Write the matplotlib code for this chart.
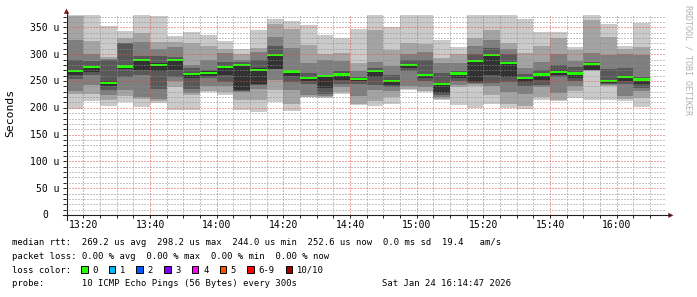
"""SmokePing style latency chart: 10 ICMP pings every 5 minutes, last 3 hours."""

import matplotlib
matplotlib.use("Agg")
import matplotlib.dates as mdates
import matplotlib.pyplot as plt
import matplotlib.transforms as mtransforms
import numpy as np
import pandas as pd
from matplotlib.lines import Line2D
from matplotlib.patches import Polygon, Rectangle
from matplotlib.ticker import MultipleLocator

# sorted rtt of the 10 pings in each 5 minute slot, microseconds (01 = fastest)
ping01 = [198, 212, 204, 211, 202, 209, 196, 195, 230, 224, 196, 192, 211, 194, 220, 219, 226, 205,
          204, 208, 233, 230, 214, 205, 200, 207, 199, 198, 214, 213, 218, 214, 214, 213, 201]
ping02 = [225, 226, 214, 222, 216, 212, 239, 223, 232, 230, 214, 215, 233, 207, 221, 220, 230, 208,
          212, 220, 236, 232, 217, 239, 240, 224, 208, 203, 220, 215, 232, 269, 240, 217, 218]
ping03 = [232, 242, 223, 234, 221, 216, 250, 227, 240, 240, 230, 236, 252, 233, 223, 222, 238, 222,
          234, 232, 240, 238, 220, 242, 244, 240, 229, 226, 238, 227, 240, 270, 242, 222, 232]
ping04 = [253, 261, 233, 258, 262, 236, 257, 236, 255, 248, 232, 242, 272, 249, 245, 226, 245, 245,
          243, 238, 268, 250, 223, 250, 246, 246, 248, 240, 242, 258, 250, 270.5, 244, 244, 237]
ping05 = [261, 267, 240, 272, 270, 268, 271, 255, 259, 262, 234, 245, 273, 260, 250, 237, 252, 250,
          257, 243, 274, 255, 228, 256, 248, 262, 258, 249, 252, 262, 256, 271, 247, 250, 245]
ping06 = [271, 278, 250, 280, 291, 283, 290, 265, 268, 278, 282, 275, 301, 270, 258, 260, 264, 256,
          271, 252, 282, 263, 245, 266, 289, 300, 286, 258, 264, 270, 266, 283, 252, 260, 254]
ping07 = [289, 287, 289, 320, 296, 296, 295, 275, 270, 285, 285, 289, 315, 271, 265, 262, 268, 258,
          275, 262, 290, 290, 265, 268, 300, 312, 300, 263, 270, 280, 276, 285, 273, 275, 258]
ping08 = [327, 301, 291, 321, 323, 309, 313, 280, 289, 302, 290, 305, 332, 311, 283, 290, 288, 268,
          285, 278, 300, 305, 283, 283, 316, 327, 310, 275, 286, 300, 288, 302, 298, 300, 298]
ping09 = [371, 325, 295, 330, 340, 322, 322, 320, 316, 310, 300, 311, 357, 347, 318, 300, 302, 284,
          345, 307, 320, 319, 292, 301, 330, 345, 320, 302, 315, 330, 308, 363, 333, 310, 313]
ping10 = [373, 373, 352, 344, 373, 372, 334, 342, 336, 325, 310, 346, 366, 362, 355, 335, 331, 347,
          373, 351, 373, 373, 326, 313, 373, 373, 373, 365, 342, 342, 314, 373, 357, 315, 358]
median_rtt = [269, 276, 246, 277, 289, 280, 289, 263, 265, 276, 280, 271, 299, 268, 256, 259, 262, 254,
              269, 250, 280, 261, 244.0, 264, 287, 298.2, 284, 256, 262, 267, 264, 282, 250, 258, 252.6]

first_slot = "2026-01-24 13:15"
view_start = "2026-01-24 13:14:47"
view_end = "2026-01-24 16:14:47"

y_ticks = [0, 50, 100, 150, 200, 250, 300, 350]
y_tick_labels = ["0", "50 u", "100 u", "150 u", "200 u", "250 u", "300 u", "350 u"]

legend_rtt = "median rtt:  269.2 us avg  298.2 us max  244.0 us min  252.6 us now  0.0 ms sd  19.4   am/s"
legend_loss = "packet loss: 0.00 % avg  0.00 % max  0.00 % min  0.00 % now"
legend_color = "loss color:"
legend_probe = "probe:       10 ICMP Echo Pings (56 Bytes) every 300s"
stamp = "Sat Jan 24 16:14:47 2026"
loss_labels = ["0", "1", "2", "3", "4", "5", "6-9", "10/10"]
loss_colors = ["#26ff00", "#00b8ff", "#0059ff", "#7e00ff", "#ff00ff", "#ff5500", "#ff0000", "#a10000"]

W, H = 697, 297
MONO = "DejaVu Sans Mono"
GRID = (0.56, 0.56, 0.56, 0.75)
MGRID = (0.87, 0.31, 0.31, 0.6)
AXIS = (0.12, 0.12, 0.12)
ARROW = (0.5, 0.12, 0.12)
PX = 72 / 100  # one pixel in points


def fx(px):
    return px / W


def fy(py):
    return 1 - py / H


plt.rcParams["font.family"] = MONO
plt.rcParams["lines.scale_dashes"] = False
fig = plt.figure(figsize=(W / 100, H / 100), dpi=100, facecolor="white")
ax = fig.add_axes([fx(66), fy(215), 600 / W, 201 / H])
ax.set_facecolor("white")

slots = mdates.date2num(pd.date_range(first_slot, periods=len(median_rtt), freq="5min"))
step = 5 / 1440

# nested smoke bands, lightest = slowest/fastest pair, darkest = the two middle pings
ranks = [ping01, ping02, ping03, ping04, ping05, ping06, ping07, ping08, ping09, ping10]
half = len(ranks) // 2
for k in range(half):
    lo = np.array(ranks[k], dtype=float)
    hi = np.array(ranks[len(ranks) - 1 - k], dtype=float)
    level = int(190 / half * (half - 1 - k)) + 50
    shade = "#{0:02x}{0:02x}{0:02x}".format(level)
    ax.bar(slots, hi - lo, bottom=lo, width=step, align="edge", color=shade,
           linewidth=0, antialiased=False, zorder=1)

med = np.array(median_rtt)
ax.bar(slots, 4.4, bottom=med - 2.2, width=step, align="edge", color=loss_colors[0],
       linewidth=0, antialiased=False, zorder=1.5)

ax.set_xlim(mdates.date2num(pd.Timestamp(view_start)), mdates.date2num(pd.Timestamp(view_end)))
ax.set_ylim(0, 375)
ax.xaxis.set_major_locator(mdates.MinuteLocator(byminute=[0, 20, 40]))
ax.xaxis.set_minor_locator(mdates.MinuteLocator(byminute=range(0, 60, 5)))
ax.yaxis.set_major_locator(MultipleLocator(50))
ax.yaxis.set_minor_locator(MultipleLocator(10))
ax.set_axisbelow(False)
dots = (0, (PX, 2 * PX))
ax.grid(which="minor", color=GRID, linestyle=dots, linewidth=PX)
ax.grid(which="major", color=MGRID, linestyle=dots, linewidth=PX)
ax.tick_params(which="both", direction="out", length=2.5, width=0.7, color=AXIS,
               labelbottom=False, labelleft=False)
for side in ax.spines.values():
    side.set_visible(False)

# axis lines with arrow heads
fig.add_artist(Line2D([fx(66.5), fx(66.5)], [fy(220), fy(12)], color=AXIS, lw=0.8))
fig.add_artist(Line2D([fx(63), fx(670)], [fy(215.3), fy(215.3)], color=AXIS, lw=0.8))
fig.add_artist(Polygon([(fx(66.5), fy(8.5)), (fx(63.8), fy(13.8)), (fx(69.2), fy(13.8))],
                       closed=True, color=ARROW, lw=0))
fig.add_artist(Polygon([(fx(673.5), fy(215.3)), (fx(668.3), fy(212.6)), (fx(668.3), fy(218))],
                       closed=True, color=ARROW, lw=0))

# y tick labels, right aligned; unitless label sits two characters further left
char_axis = 7 * 100 / 72 * 0.602
ylab_tr = mtransforms.blended_transform_factory(fig.transFigure, ax.transData) + \
    mtransforms.ScaledTranslation(0, -3.5 / 100, fig.dpi_scale_trans)
for value, label in zip(y_ticks, y_tick_labels):
    right = 59.8 if label.endswith("u") else 59.8 - 2 * char_axis
    ax.text(fx(right), value, label, transform=ylab_tr, ha="right", va="baseline",
            fontsize=7, color="black")

xlab_tr = mtransforms.blended_transform_factory(ax.transData, fig.transFigure)
for t in pd.date_range("2026-01-24 13:20", "2026-01-24 16:00", freq="20min"):
    ax.text(mdates.date2num(t), fy(228.3), t.strftime("%H:%M"), transform=xlab_tr,
            ha="center", va="baseline", fontsize=7, color="black")

fig.text(fx(10), fy(113), "Seconds", rotation=90, ha="center", va="center", fontsize=8.2)
fig.text(fx(688), fy(60), "RRDTOOL / TOBI OETIKER", rotation=270, ha="center", va="center",
         fontsize=6, color="#b0b0b0")

# legend block
leg_size = 6.4
fig.text(fx(12.3), fy(245), legend_rtt, ha="left", va="baseline", fontsize=leg_size)
fig.text(fx(12.3), fy(258.8), legend_loss, ha="left", va="baseline", fontsize=leg_size)
fig.text(fx(12.3), fy(272.6), legend_color, ha="left", va="baseline", fontsize=leg_size)
fig.text(fx(12.3), fy(286.3), legend_probe, ha="left", va="baseline", fontsize=leg_size)
fig.text(fx(510.8), fy(286.3), stamp, ha="right", va="baseline", fontsize=leg_size)

x = 81.0
for label, colour in zip(loss_labels, loss_colors):
    fig.add_artist(Rectangle((fx(x), fy(273)), 6.5 / W, 7 / H, facecolor=colour,
                             edgecolor="black", lw=0.7))
    text_x = x + 11.3
    fig.text(fx(text_x), fy(272.6), label, ha="left", va="baseline", fontsize=leg_size)
    x = text_x + (len(label) + 2) * 5.27 + 0.6

fig.savefig("out.png", dpi=100, facecolor="white")
